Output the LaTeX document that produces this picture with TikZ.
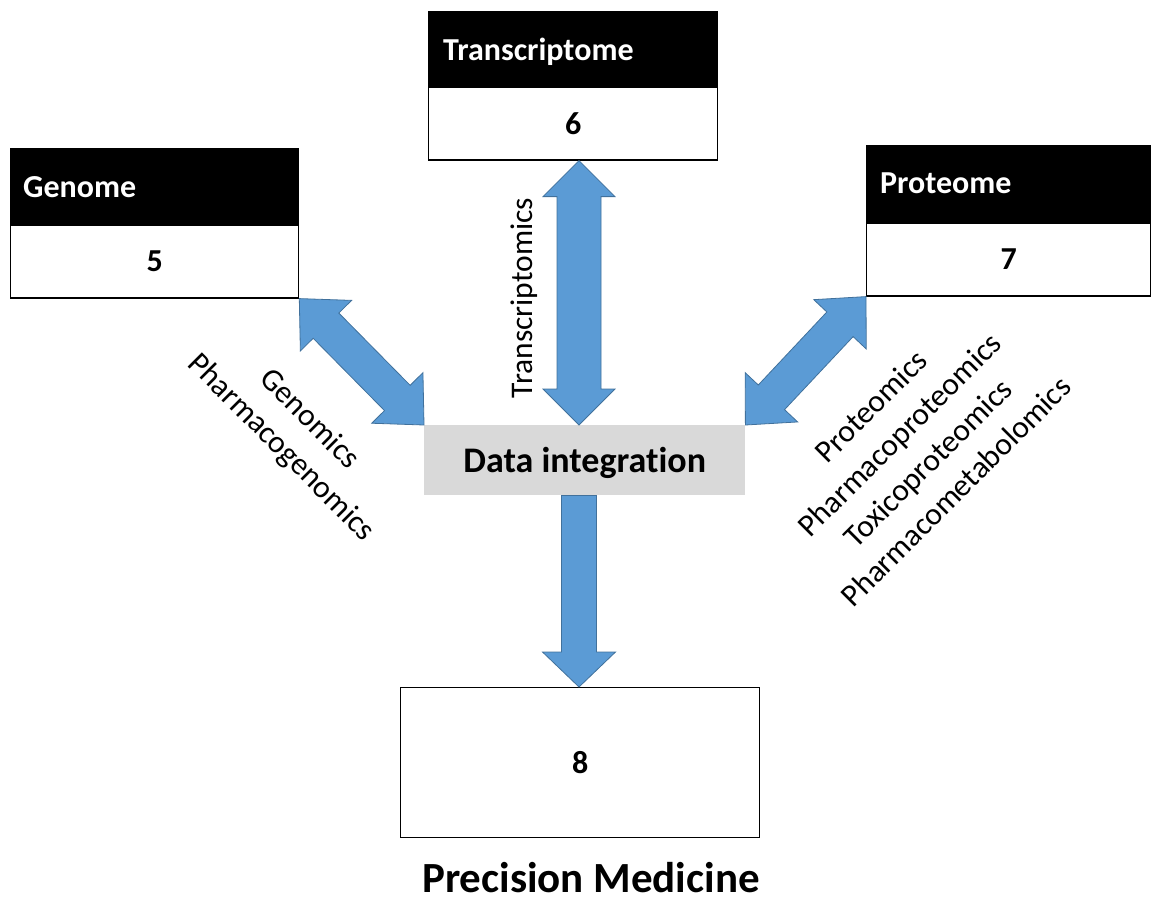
\documentclass[tikz,border=0pt]{standalone}
\usepackage{fontspec}
\setmainfont[Ligatures=NoCommon]{Carlito}
\usetikzlibrary{calc}
\definecolor{arrowblue}{HTML}{5B9BD5}
\definecolor{arrowedge}{HTML}{41719C}
\definecolor{mergegray}{HTML}{D9D9D9}

% block arrow with a head at both ends: #1 start, #2 end,
% #3 head length, #4 head half width, #5 shaft half width
\newcommand\twowayarrow[5]{%
  \coordinate (ha) at ($(#1)!#3!(#2)$);
  \coordinate (hb) at ($(#2)!#3!(#1)$);
  \draw[fatarrow] (#1) -- ($(ha)!#4!90:(#2)$) -- ($(ha)!#5!90:(#2)$)
    -- ($(hb)!#5!-90:(#1)$) -- ($(hb)!#4!-90:(#1)$) -- (#2)
    -- ($(hb)!#4!90:(#1)$) -- ($(hb)!#5!90:(#1)$)
    -- ($(ha)!#5!-90:(#2)$) -- ($(ha)!#4!-90:(#2)$) -- cycle;
}
% block arrow with a flat tail at #1 and a head at #2
\newcommand\onewayarrow[5]{%
  \coordinate (hb) at ($(#2)!#3!(#1)$);
  \draw[fatarrow] ($(#1)!#5!90:(#2)$) -- ($(hb)!#5!-90:(#1)$)
    -- ($(hb)!#4!-90:(#1)$) -- (#2) -- ($(hb)!#4!90:(#1)$)
    -- ($(hb)!#5!90:(#1)$) -- ($(#1)!#5!-90:(#2)$) -- cycle;
}

\begin{document}
\begin{tikzpicture}[x=1pt,y=-1pt,
  headbox/.style={draw=black, fill=black, line width=1.3pt, inner sep=0pt, anchor=north west},
  bodybox/.style={draw=black, fill=white, line width=1.3pt, inner sep=0pt, anchor=north},
  headtext/.style={text=white, font=\bfseries\fontsize{32}{38}\selectfont, inner sep=0pt, anchor=base west},
  numtext/.style={font=\bfseries\fontsize{32}{38}\selectfont, inner sep=0pt},
  sidetext/.style={font=\fontsize{31.5}{40}\selectfont, inner sep=0pt},
  fatarrow/.style={fill=arrowblue, draw=arrowedge, line width=0.8pt, line join=miter},
]
\useasboundingbox (0,0) rectangle (1151,900);

% Genome
\node[headbox, minimum width=288pt, minimum height=75pt] (genH) at (10,148) {};
\node[bodybox, minimum width=288pt, minimum height=73pt] (genB) at (genH.south) {};
\node[headtext] (genL) at ($(genH.west)+(13,11.5)$) {Genome};
\node[numtext] (genN) at (genB.center) {5};

% Transcriptome
\node[headbox, minimum width=289pt, minimum height=74pt] (trH) at (428,11) {};
\node[bodybox, minimum width=289pt, minimum height=73pt] (trB) at (trH.south) {};
\node[headtext] (trL) at ($(trH.west)+(15,12)$) {Transcriptome};
\node[numtext] (trN) at (trB.center) {6};

% Proteome
\node[headbox, minimum width=284pt, minimum height=76pt] (prH) at (866,145) {};
\node[bodybox, minimum width=284pt, minimum height=73pt] (prB) at (prH.south) {};
\node[headtext] (prL) at ($(prH.west)+(14,10)$) {Proteome};
\node[numtext] (prN) at (prB.center) {7};

% Data integration
\node[fill=mergegray, minimum width=321pt, minimum height=70pt, inner sep=0pt, anchor=north west] (data) at (424,425) {};
\node[font=\bfseries\fontsize{36}{42}\selectfont, inner sep=0pt, anchor=base] (dataL) at ($(data.center)+(0,12.5)$) {Data integration};

% Precision medicine result
\node[draw=black, line width=1.3pt, minimum width=359pt, minimum height=150pt, inner sep=0pt, anchor=north west] (res) at (400,687) {};
\node[numtext] (resN) at (res.center) {8};
\node[font=\bfseries\fontsize{43}{50}\selectfont, inner sep=0pt, anchor=base] (pm) at (591,892) {Precision Medicine};

% arrows
\coordinate (vx) at (579,0);
\coordinate (tvTop) at (trB.south -| vx);
\coordinate (tvBot) at (data.north -| vx);
\coordinate (dvTop) at (data.south -| vx);
\coordinate (dvBot) at (res.north -| vx);
\twowayarrow{genB.south east}{data.north west}{38pt}{36pt}{18pt}
\twowayarrow{prB.south west}{data.north east}{38pt}{36pt}{18pt}
\twowayarrow{tvTop}{tvBot}{36pt}{36pt}{22pt}
\onewayarrow{dvTop}{dvBot}{35pt}{36.5pt}{17.5pt}

% arrow labels
\node[sidetext, rotate=90, anchor=base] (lblT) at (532,298) {Transcriptomics};
\node[sidetext, rotate=-45, align=center] (lblG) at (295,434) {Genomics\\Pharmacogenomics};
\node[sidetext, rotate=45, align=center] (lblP) at (913.5,448.5)
  {Proteomics\\Pharmacoproteomics\\Toxicoproteomics\\Pharmacometabolomics};
\end{tikzpicture}
\end{document}
